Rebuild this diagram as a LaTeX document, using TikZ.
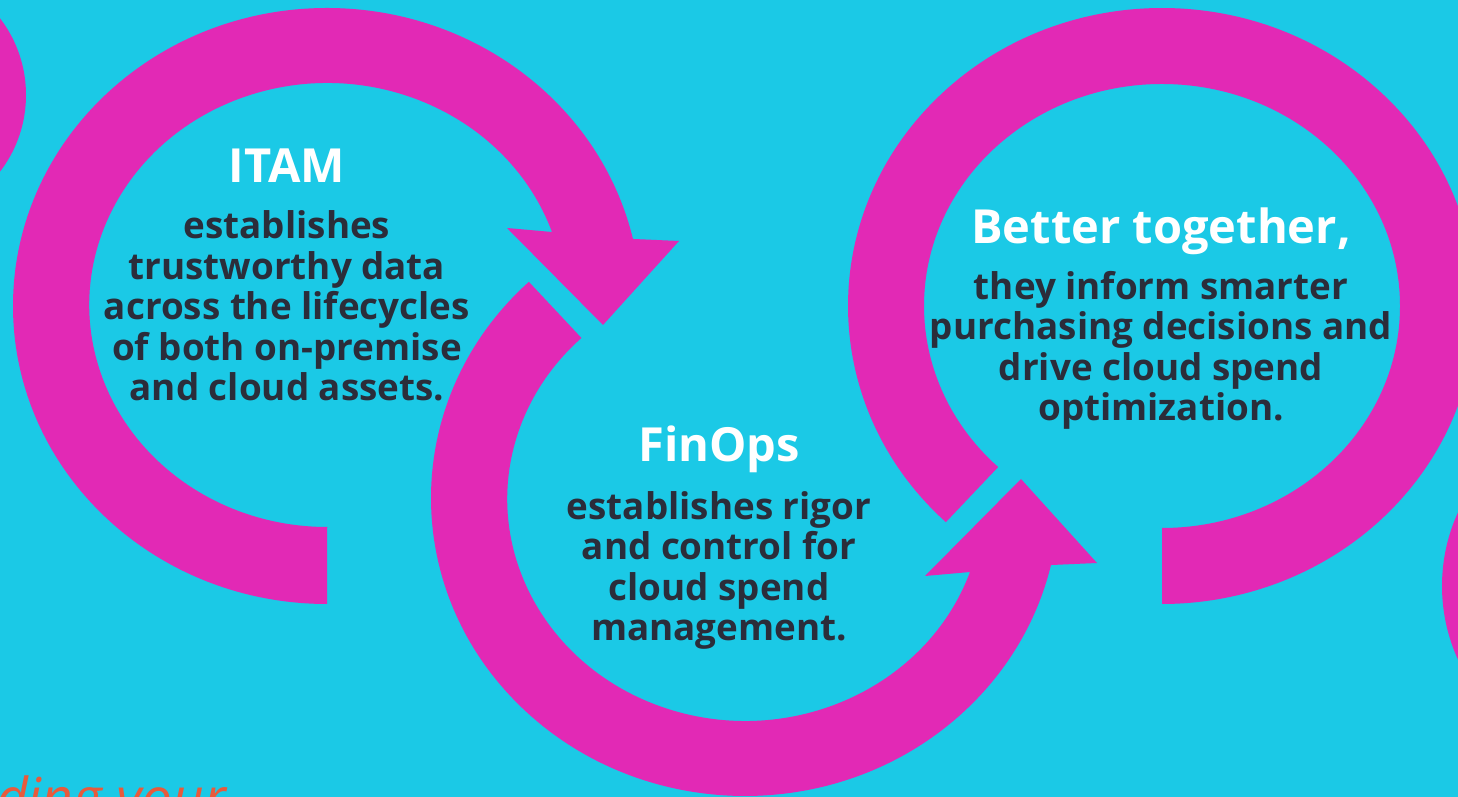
\documentclass[tikz,border=0pt]{standalone}
\usepackage{fontspec}
\setmainfont{Open Sans}
\definecolor{skyback}{HTML}{1BC9E6}
\definecolor{ringpink}{HTML}{E229B5}
\definecolor{bodyink}{HTML}{2B2D3A}
\definecolor{scriptred}{HTML}{E85A3C}
\tikzset{
  headline/.style={text=white, font=\fontsize{47}{52}\selectfont\bfseries, inner sep=0pt, anchor=base},
  blurb/.style={text=bodyink, font=\fontsize{36.8}{40.6}\selectfont\bfseries, align=center, inner sep=0pt, anchor=base},
}
\begin{document}
\begin{tikzpicture}[x=1pt, y=1pt]
\useasboundingbox (0,0) rectangle (1458,797);
\fill[skyback] (0,0) rectangle (1458,797);
\clip (0,0) rectangle (1458,797);
\fill[ringpink] (-100,702) circle[radius=126pt];
\fill[ringpink] (1619,211) circle[radius=177pt];
\fill[ringpink] (327,193) arc[start angle=270, end angle=13, x radius=314pt, y radius=298pt]
  -- (679,556) -- (603,472) -- (507,569) -- (552,565)
  arc[start angle=19.2, end angle=270, x radius=238pt, y radius=222pt] -- cycle;
\fill[ringpink] (745,299) ++(133.5:314pt and 298pt) arc[start angle=133.5, end angle=347, x radius=314pt, y radius=298pt]
  -- (1097,234) -- (1021,318) -- (925,221) -- (970,225)
  arc[start angle=340.8, end angle=133.5, x radius=238pt, y radius=222pt] -- cycle;
\fill[ringpink] (1162,491) ++(226.5:314pt and 298pt) arc[start angle=226.5, end angle=-90, x radius=314pt, y radius=298pt]
  -- ++(0,76) arc[start angle=-90, end angle=226.5, x radius=238pt, y radius=222pt] -- cycle;
\node[headline] (itam) at (287,614) {ITAM};
\node[blurb] (itamtext) at (287,396) {establishes\\trustworthy data\\across the lifecycles\\of both on-premise\\and cloud assets.};
\node[headline] (finops) at (719,335) {FinOps};
\node[blurb] (finopstext) at (719,156) {establishes rigor\\and control for\\cloud spend\\management.};
\node[headline] (better) at (1161,553) {Better together,};
\node[blurb] (bettertext) at (1161,376) {they inform smarter\\purchasing decisions and\\drive cloud spend\\optimization.};
\node[text=scriptred, font=\fontsize{55}{60}\selectfont\itshape, inner sep=0pt, anchor=base west] (tagline) at (-4,-21) {ding your};
\end{tikzpicture}
\end{document}
